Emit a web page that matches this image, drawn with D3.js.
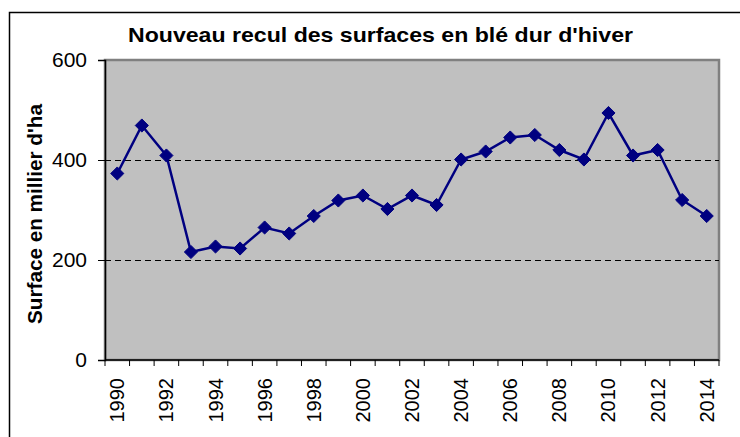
<!DOCTYPE html>
<html>
<head>
<meta charset="utf-8">
<script src="https://cdn.jsdelivr.net/npm/d3@7"></script>
<style>
  body { margin: 0; background: #fff; }
  svg { display: block; font-family: "Liberation Sans", Arial, sans-serif; }
</style>
</head>
<body>
<svg id="chart" width="740" height="437"></svg>
<script>
const years = d3.range(1990, 2015);
const surfaces = [373, 469, 409, 216, 227, 223, 265, 253, 288, 319, 329, 302,
                  329, 310, 401, 417, 445, 450, 420, 401, 494, 409, 420, 320, 288];
const yTicks = [0, 200, 400, 600];
const gridValues = [200, 400];
const title = "Nouveau recul des surfaces en blé dur d'hiver";
const yLabel = "Surface en millier d'ha";

const svg = d3.select('#chart');
const margin = { top: 60, right: 21, bottom: 77, left: 105 };
const width = 740 - margin.left - margin.right;
const height = 437 - margin.top - margin.bottom;

// outer frame (runs off the right/bottom edges like the original)
svg.append('rect')
    .attr('x', 9.5).attr('y', 12.5)
    .attr('width', 760).attr('height', 460)
    .attr('fill', 'none').attr('stroke', '#000').attr('stroke-width', 1.5);

svg.append('text')
    .attr('x', 128).attr('y', 42)
    .attr('textLength', 505).attr('lengthAdjust', 'spacingAndGlyphs')
    .style('font-size', '21px').style('font-weight', 'bold')
    .text(title);

const g = svg.append('g').attr('transform', 'translate(' + margin.left + ',' + margin.top + ')');

const xScale = d3.scaleBand().domain(years).range([0, width]);
const yScale = d3.scaleLinear().domain([0, 600]).range([height, 0]);

// plot background
g.append('rect')
    .attr('x', 0).attr('y', 0).attr('width', width).attr('height', height)
    .attr('fill', '#c0c0c0')
    .attr('stroke', '#808080').attr('stroke-width', 2.5);

g.selectAll('.grid').data(gridValues).enter().append('line')
    .attr('class', 'grid')
    .attr('x1', 0).attr('x2', width)
    .attr('y1', d => yScale(d) + 0.5).attr('y2', d => yScale(d) + 0.5)
    .attr('stroke', '#000').attr('stroke-width', 1)
    .attr('stroke-dasharray', '6,4');

// y axis
const yAxis = d3.axisLeft(yScale).tickValues(yTicks).tickSize(7).tickPadding(11);
g.append('g').attr('id', 'yAxisG')
    .call(yAxis)
    .call(a => {
        a.select('.domain').attr('stroke', '#000').attr('stroke-width', 1.5);
        a.selectAll('.tick line').attr('stroke', '#000');
        a.selectAll('.tick text').style('font-size', '21px').attr('fill', '#000');
    });

// x axis: ticks on category boundaries, labels every 2 years
const xAxisG = g.append('g').attr('id', 'xAxisG')
    .attr('transform', 'translate(0,' + height + ')');
xAxisG.append('line')
    .attr('x1', 0).attr('x2', width).attr('y1', 0).attr('y2', 0)
    .attr('stroke', '#000').attr('stroke-width', 1.5);
xAxisG.selectAll('.xtick').data(years.concat([2015])).enter().append('line')
    .attr('class', 'xtick')
    .attr('x1', d => d === 2015 ? width : xScale(d))
    .attr('x2', d => d === 2015 ? width : xScale(d))
    .attr('y1', 0).attr('y2', 6)
    .attr('stroke', '#000');
xAxisG.selectAll('.xlabel').data(years.filter(y => y % 2 === 0)).enter().append('text')
    .attr('class', 'xlabel')
    .attr('transform', d => 'translate(' + (xScale(d) + xScale.bandwidth() / 2 + 7) + ',18) rotate(-90)')
    .attr('text-anchor', 'end')
    .style('font-size', '20px')
    .text(d => d);

svg.append('text')
    .attr('transform', 'translate(42,324) rotate(-90)')
    .attr('textLength', 220).attr('lengthAdjust', 'spacingAndGlyphs')
    .style('font-size', '20px').style('font-weight', 'bold')
    .text(yLabel);

// series
const line = d3.line()
    .x((d, i) => xScale(years[i]) + xScale.bandwidth() / 2)
    .y(d => yScale(d));

g.append('path')
    .datum(surfaces)
    .attr('d', line)
    .attr('fill', 'none')
    .attr('stroke', '#000080')
    .attr('stroke-width', 2.5);

g.selectAll('.pt').data(surfaces).enter().append('path')
    .attr('class', 'pt')
    .attr('d', d3.symbol().type(d3.symbolDiamond2).size(110))
    .attr('transform', (d, i) => 'translate(' + (xScale(years[i]) + xScale.bandwidth() / 2) + ',' + yScale(d) + ')')
    .attr('fill', '#000080')
    .attr('stroke', '#000080').attr('stroke-width', 1);
</script>
</body>
</html>
